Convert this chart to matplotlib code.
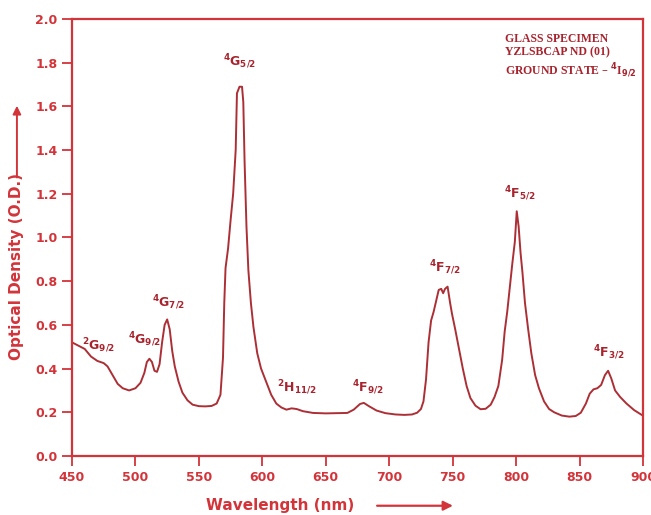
import matplotlib
matplotlib.use("Agg")
import matplotlib.pyplot as plt

# absorption spectrum
wavelength = [450, 455, 460, 465, 470, 475, 478, 482, 486, 490, 495, 500, 504, 507, 509, 511, 513, 515, 517,
              519, 521, 523, 525, 527, 529, 531, 534, 537, 541, 545, 550, 555, 560, 564, 567, 569, 570, 571,
              573, 575, 577, 579, 580, 582, 584, 585, 586, 587.5, 589, 591, 593, 596, 599, 603, 607, 611, 615,
              619, 623, 627, 632, 640, 650, 660, 667, 672, 677, 680, 684, 690, 697, 705, 712, 718, 722, 725,
              727, 729, 731, 733, 735, 737, 739, 741, 742.5, 744, 746, 748, 749.5, 752, 755, 758, 761, 764,
              768, 772, 776, 780, 783, 786, 789, 791, 793, 795, 797, 799, 800.5, 802, 803.5, 805, 807, 809.5,
              812, 815, 818, 822, 826, 830, 836, 842, 847, 851, 855, 858, 861, 864, 867, 870, 872.5, 875, 878,
              882, 887, 893, 899]
density = [0.52, 0.505, 0.49, 0.455, 0.435, 0.425, 0.41, 0.37, 0.33, 0.31, 0.30, 0.31, 0.335, 0.38, 0.43, 0.445,
           0.43, 0.39, 0.385, 0.42, 0.52, 0.60, 0.625, 0.58, 0.48, 0.41, 0.34, 0.29, 0.255, 0.235, 0.228, 0.227,
           0.229, 0.24, 0.28, 0.45, 0.70, 0.86, 0.95, 1.08, 1.20, 1.40, 1.66, 1.69, 1.69, 1.62, 1.35, 1.05, 0.85,
           0.70, 0.59, 0.47, 0.40, 0.34, 0.28, 0.24, 0.222, 0.212, 0.218, 0.215, 0.205, 0.197, 0.195, 0.196,
           0.197, 0.212, 0.238, 0.243, 0.228, 0.208, 0.196, 0.19, 0.188, 0.19, 0.198, 0.215, 0.25, 0.35, 0.52,
           0.62, 0.66, 0.71, 0.76, 0.765, 0.745, 0.765, 0.775, 0.70, 0.65, 0.58, 0.49, 0.40, 0.32, 0.265, 0.23,
           0.214, 0.216, 0.235, 0.27, 0.32, 0.44, 0.57, 0.66, 0.77, 0.88, 0.98, 1.12, 1.05, 0.93, 0.84, 0.70,
           0.58, 0.47, 0.37, 0.31, 0.25, 0.215, 0.2, 0.185, 0.18, 0.183, 0.198, 0.24, 0.285, 0.305, 0.31, 0.325,
           0.37, 0.39, 0.355, 0.30, 0.27, 0.24, 0.21, 0.188]

# transition labels and where they sit
levels = [r"$^{2}$G$_{9/2}$", r"$^{4}$G$_{9/2}$", r"$^{4}$G$_{7/2}$", r"$^{4}$G$_{5/2}$", r"$^{2}$H$_{11/2}$",
          r"$^{4}$F$_{9/2}$", r"$^{4}$F$_{7/2}$", r"$^{4}$F$_{5/2}$", r"$^{4}$F$_{3/2}$"]
level_x = [471, 507, 526, 582, 627, 683, 744, 803, 873]
level_y = [0.46, 0.49, 0.66, 1.76, 0.27, 0.27, 0.82, 1.16, 0.43]

xticks = list(range(450, 901, 50))
yticks = [0.0, 0.2, 0.4, 0.6, 0.8, 1.0, 1.2, 1.4, 1.6, 1.8, 2.0]

red = "#d2343a"
line_red = "#ac2f36"
text_red = "#a8232d"

plt.rcParams["mathtext.default"] = "bf"

fig = plt.figure(figsize=(6.51, 5.15), dpi=100)
ax = fig.add_axes([0.1106, 0.1146, 0.8771, 0.8485])

ax.plot(wavelength, density, color=line_red, lw=1.4)

for lab, x, y in zip(levels, level_x, level_y):
    ax.text(x, y, lab, color=text_red, fontsize=9, fontweight="bold", ha="center", va="bottom")

ax.text(0.758, 0.968, "GLASS SPECIMEN\nYZLSBCAP ND (01)\nGROUND STATE \u2013 $^{4}$I$_{9/2}$",
        transform=ax.transAxes, ha="left", va="top", fontsize=8.5, fontweight="bold",
        family="Liberation Serif", color=text_red, linespacing=1.2)

ax.set_xlim(450, 900)
ax.set_ylim(0, 2.0)
ax.set_xticks(xticks)
ax.set_yticks(yticks)
ax.set_yticklabels([f"{v:.1f}" for v in yticks])

for s in ax.spines.values():
    s.set_color(red)
    s.set_linewidth(1.6)
ax.tick_params(direction="out", length=7, width=1.3, color=red, labelcolor=red, labelsize=9)
for t in ax.get_xticklabels() + ax.get_yticklabels():
    t.set_fontweight("bold")

# axis titles with arrows, like the original
fig.text(0.43, 0.018, "Wavelength (nm)", color=red, fontsize=11, fontweight="bold", ha="center", va="center")
fig.add_artist(plt.matplotlib.patches.FancyArrowPatch((0.575, 0.018), (0.70, 0.018), transform=fig.transFigure,
               arrowstyle="-|>", mutation_scale=14, color=red, lw=1.6))
fig.text(0.026, 0.483, "Optical Density (O.D.)", color=red, fontsize=11, fontweight="bold",
         rotation=90, ha="center", va="center")
fig.add_artist(plt.matplotlib.patches.FancyArrowPatch((0.026, 0.65), (0.026, 0.80), transform=fig.transFigure,
               arrowstyle="-|>", mutation_scale=12, color=red, lw=1.4))

fig.savefig("out.png", dpi=100)
